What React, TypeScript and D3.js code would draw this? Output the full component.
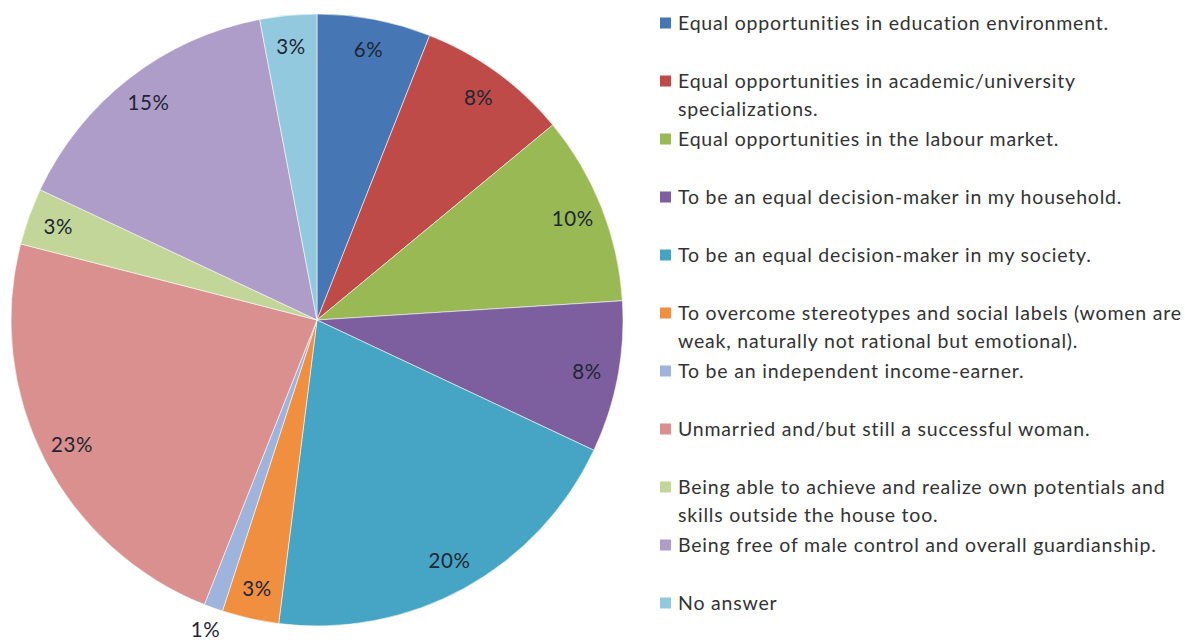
import React from "react";
import * as d3 from "d3";

const categories = [
  "Equal opportunities in education environment.",
  "Equal opportunities in academic/university\nspecializations.",
  "Equal opportunities in the labour market.",
  "To be an equal decision-maker in my household.",
  "To be an equal decision-maker in my society.",
  "To overcome stereotypes and social labels (women are\nweak, naturally not rational but emotional).",
  "To be an independent income-earner.",
  "Unmarried and/but still a successful woman.",
  "Being able to achieve and realize own potentials and\nskills outside the house too.",
  "Being free of male control and overall guardianship.",
  "No answer",
];
const values = [6, 8, 10, 8, 20, 3, 1, 23, 3, 15, 3];
const colors = [
  "#4677b4", "#be4b48", "#98b954", "#7d5fa0", "#46a5c4", "#ef8f3f",
  "#9fb4dc", "#d9908e", "#c2d69a", "#ae9dc9", "#93c9de",
];

const W = 1185;
const H = 642;
const CX = 317;
const CY = 320;
const R = 306;
const FONT = "Lato, 'Open Sans', sans-serif";

export default function App() {
  const pie = d3.pie<number>().value((d) => d).sort(null);
  const arcs = pie(values);
  const arc = d3.arc<d3.PieArcDatum<number>>().innerRadius(0).outerRadius(R);
  const labelArc = d3.arc<d3.PieArcDatum<number>>().innerRadius(275).outerRadius(275);
  const outArc = d3.arc<d3.PieArcDatum<number>>().innerRadius(329).outerRadius(329);

  const legendY = d3.scaleLinear().domain([0, 1]).range([23, 81]);

  return (
    <svg width={W} height={H} style={{ position: "absolute", left: 0, top: 0, background: "#fff" }}>
      <g transform={`translate(${CX},${CY})`}>
        {arcs.map((a, i) => (
          <path key={i} d={arc(a) || ""} fill={colors[i]} stroke="#ffffff" strokeWidth={0.8} strokeOpacity={0.7} />
        ))}
        {arcs.map((a, i) => {
          const [x, y] = (values[i] < 2 ? outArc : labelArc).centroid(a);
          return (
            <text key={"l" + i} x={x} y={y} dy="0.36em" textAnchor="middle" fontFamily={FONT} fontSize={20.5} letterSpacing={0.6} fill="#1e2633">
              {`${values[i]}%`}
            </text>
          );
        })}
      </g>
      <g>
        {categories.map((c, i) => {
          const y = legendY(i);
          const lines = c.split("\n");
          return (
            <g key={"g" + i}>
              <rect x={660} y={y - 5.5} width={11} height={11} fill={colors[i]} />
              <text x={678} y={y} fontFamily={FONT} fontSize={19.5} letterSpacing={0.8} fill="#333333">
                {lines.map((ln, j) => (
                  <tspan key={j} x={678} dy={j === 0 ? "0.36em" : 28}>
                    {ln}
                  </tspan>
                ))}
              </text>
            </g>
          );
        })}
      </g>
    </svg>
  );
}
